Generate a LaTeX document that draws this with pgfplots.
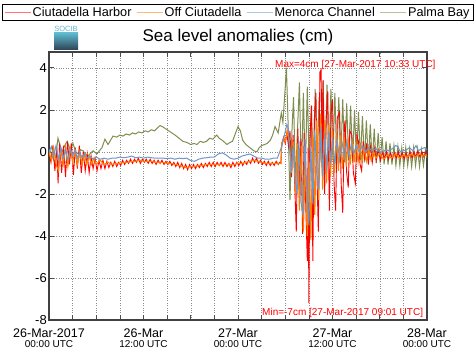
\documentclass[border=0pt]{standalone}
\usepackage{pgfplots}
\pgfplotsset{compat=1.18}
\usepackage{fontspec}
\setmainfont{Liberation Sans}
\definecolor{cred}{RGB}{255,0,0}
\definecolor{corange}{RGB}{255,128,0}
\definecolor{cblue}{RGB}{110,150,200}
\definecolor{cgreen}{RGB}{125,142,78}
\definecolor{logotop}{RGB}{95,185,205}
\definecolor{logobot}{RGB}{45,65,85}
\newcommand{\tl}[2]{{\fontsize{12.5}{10.6}\selectfont #1}\\[-2.5pt]{\fontsize{10}{10.6}\selectfont #2}}
\begin{document}
\begin{tikzpicture}
\useasboundingbox (0pt,0pt) rectangle (476pt,359pt);
\begin{axis}[
  anchor=south west, at={(49pt,39pt)},
  width=378pt, height=268pt, scale only axis,
  xmin=0, xmax=48, ymin=-8, ymax=4.75,
  xtick={0,12,24,36,48},
  minor xtick={3,6,9,15,18,21,27,30,33,39,42,45},
  xticklabels={{\tl{26-Mar-2017}{00:00 UTC}},{\tl{26-Mar}{12:00 UTC}},{\tl{27-Mar}{00:00 UTC}},{\tl{27-Mar}{12:00 UTC}},{\tl{28-Mar}{00:00 UTC}}},
  xticklabel style={align=center, anchor=north, inner sep=2pt, yshift=-7pt},
  ytick={-8,-6,-4,-2,0,2,4},
  yticklabels={-8,-6,-4,-2,0,2,4},
  yticklabel style={font=\fontsize{13}{13}\selectfont, inner sep=2pt},
  grid=both,
  major grid style={dotted, black!45},
  minor grid style={dotted, black!45},
  major tick length=5pt, minor tick length=5pt,
  tick style={black!70, line width=0.6pt},
  axis line style={black!75, line width=1.1pt},
  legend columns=4,
  legend style={at={(0.4987,1.147)}, anchor=center, draw=black, line width=0.8pt,
    font=\fontsize{12.7}{14}\selectfont, inner xsep=2pt, inner ysep=1pt,
    nodes={inner sep=1.5pt},
    /tikz/every even column/.append style={column sep=3pt}},
  legend image code/.code={\draw[#1] (0pt,0pt) -- (26pt,0pt);},
]
\addlegendimage{color=cred!55, line width=1.2pt}
\addlegendentry{Ciutadella Harbor}
\addlegendimage{color=corange!55, line width=1.2pt}
\addlegendentry{Off Ciutadella}
\addlegendimage{color=cblue!55, line width=1.2pt}
\addlegendentry{Menorca Channel}
\addlegendimage{color=cgreen!55, line width=1.2pt}
\addlegendentry{Palma Bay}

% Palma Bay
\addplot[color=cgreen, line width=1pt, forget plot] coordinates {
(0,0.0)(0.13,0.05)(0.76,-0.55)(1.14,0.65)(1.65,0.0)(2.0,0.3)(2.3,0.5)(2.7,0.1)(3.05,0.4)(3.4,0.0)
(3.7,-0.1)(4.0,0.1)(4.32,0.05)(4.6,-0.1)(4.95,-0.2)(5.3,-0.05)(5.6,0.05)(6.1,-0.1)(6.4,0.05)(6.73,0.2)
(7.1,0.6)(7.5,0.35)(8.13,0.75)(8.6,0.7)(9.0,0.8)(9.4,0.75)(9.8,0.85)(10.2,0.8)(10.6,0.9)(11.0,0.85)
(11.4,0.95)(11.8,0.9)(12.2,1.0)(12.6,0.95)(13.0,1.05)(13.4,1.0)(13.8,1.15)(14.1,1.25)(14.4,1.2)(14.8,1.1)
(15.4,0.95)(16.0,0.8)(16.5,0.65)(17.0,0.5)(17.5,0.45)(18.0,0.35)(18.4,0.4)(18.8,0.35)(19.2,0.5)(19.6,0.45)
(20.0,0.5)(20.4,0.65)(20.8,0.6)(21.3,0.8)(21.6,0.65)(22.0,0.55)(22.6,0.35)(23.0,0.45)(23.3,0.5)(23.7,0.9)
(24.0,1.2)(24.3,1.0)(24.6,0.55)(25.0,0.35)(25.5,0.2)(26.0,0.05)(26.4,0.0)(26.7,0.2)(27.0,0.3)(27.4,0.35)
(27.7,0.4)(28.1,0.55)(28.4,0.8)(28.7,1.2)(29.1,0.9)(29.5,1.85)(29.7,1.4)(29.9,2.5)(30.15,4.0)(30.35,1.5)
(30.6,-2.3)(30.85,1.0)(31.05,2.6)(31.3,-1.5)(31.55,1.0)(31.8,3.3)(32.05,-1.3)(32.3,2.8)(32.55,-1.0)(32.8,3.1)
(33.05,-0.8)(33.3,2.2)(33.55,-1.0)(33.8,3.0)(34.05,-0.6)(34.3,2.6)(34.55,-0.5)(34.8,3.4)(35.05,-0.6)(35.3,3.2)
(35.55,-0.5)(35.8,3.0)(36.05,-0.4)(36.3,2.8)(36.55,-0.5)(36.8,2.6)(37.05,-0.4)(37.3,2.5)(37.55,-0.5)(37.8,2.3)
(38.05,-0.4)(38.3,2.2)(38.55,-0.45)(38.8,2.0)(39.05,-0.5)(39.3,1.9)(39.55,-0.4)(39.8,1.7)(40.05,-0.5)(40.3,1.5)
(40.55,-0.45)(40.8,1.3)(41.05,-0.5)(41.3,1.1)(41.55,-0.55)(41.8,0.9)(42.05,-0.55)(42.3,0.7)(42.55,-0.6)(42.8,0.5)
(43.05,-0.6)(43.3,0.4)(43.55,-0.6)(43.8,0.3)(44.05,-0.65)(44.3,0.25)(44.55,-0.65)(44.8,0.2)(45.05,-0.7)(45.3,0.2)
(45.55,-0.65)(45.8,0.15)(46.05,-0.7)(46.3,0.2)(46.55,-0.65)(46.8,0.15)(47.05,-0.7)(47.3,0.1)(47.55,-0.65)(47.8,0.1)(48.0,-0.3)
};

% Ciutadella Harbor
\addplot[color=cred, line width=0.9pt, forget plot] coordinates {
(0,0.0)(0.25,-0.5)(0.5,0.3)(0.75,-0.9)(1.0,0.2)(1.15,-1.5)(1.35,0.4)(1.6,-1.0)(1.85,0.3)(2.1,-1.2)
(2.35,0.5)(2.6,-0.6)(2.85,0.4)(3.1,-1.1)(3.35,0.2)(3.6,-0.8)(3.85,0.3)(4.1,-1.0)(4.35,0.0)(4.6,-0.9)
(4.85,-0.1)(5.1,-1.0)(5.35,-0.2)(5.6,-0.8)(5.85,-0.3)(6.1,-0.9)(6.35,-0.4)(6.6,-0.8)(6.85,-0.4)(7.1,-0.8)
(7.35,-0.45)(7.6,-0.75)(7.85,-0.5)(8.1,-0.7)(8.35,-0.45)(8.6,-0.7)(8.85,-0.5)(9.1,-0.65)(9.35,-0.4)(9.6,-0.6)
(9.85,-0.4)(10.1,-0.55)(10.35,-0.35)(10.6,-0.55)(10.85,-0.35)(11.1,-0.5)(11.35,-0.3)(11.6,-0.55)(11.85,-0.35)(12.1,-0.5)
(12.35,-0.35)(12.6,-0.55)(12.85,-0.35)(13.1,-0.55)(13.35,-0.4)(13.6,-0.6)(13.85,-0.4)(14.1,-0.55)(14.35,-0.4)(14.6,-0.6)
(14.85,-0.45)(15.1,-0.6)(15.35,-0.45)(15.6,-0.65)(15.85,-0.5)(16.1,-0.7)(16.35,-0.5)(16.6,-0.75)(16.85,-0.55)(17.1,-0.8)
(17.35,-0.6)(17.6,-0.85)(17.85,-0.6)(18.1,-0.8)(18.35,-0.6)(18.6,-0.8)(18.85,-0.6)(19.1,-0.75)(19.35,-0.55)(19.6,-0.75)
(19.85,-0.55)(20.1,-0.7)(20.35,-0.5)(20.6,-0.7)(20.85,-0.5)(21.1,-0.7)(21.35,-0.5)(21.6,-0.65)(21.85,-0.5)(22.1,-0.7)
(22.35,-0.5)(22.6,-0.7)(22.85,-0.55)(23.1,-0.75)(23.35,-0.5)(23.6,-0.7)(23.85,-0.5)(24.1,-0.65)(24.35,-0.45)(24.6,-0.65)
(24.85,-0.45)(25.1,-0.6)(25.35,-0.4)(25.6,-0.55)(25.85,-0.3)(26.1,-0.5)(26.35,-0.3)(26.6,-0.55)(26.85,-0.4)(27.1,-0.6)
(27.35,-0.45)(27.6,-0.65)(27.85,-0.45)(28.1,-0.65)(28.35,-0.5)(28.6,-0.65)(28.85,-0.45)(29.1,-0.6)(29.3,-0.5)(29.45,-0.55)
(29.55,0.4)(29.8,0.7)(30.0,0.4)(30.2,0.9)(30.4,0.3)(30.6,1.0)(30.8,-1.2)(31.0,0.8)(31.2,-1.5)(31.4,-3.8)
(31.6,1.1)(31.8,-1.8)(32.0,0.6)(32.2,-3.9)(32.4,0.9)(32.6,-2.5)(32.8,-5.2)(32.9,0.2)(33.0,-7.2)(33.15,0.8)
(33.35,2.2)(33.5,-5.2)(33.7,1.5)(33.9,2.8)(34.05,-1.5)(34.2,-3.8)(34.4,3.8)(34.55,3.9)(34.7,-1.0)(34.8,3.4)
(35.0,-2.0)(35.2,1.5)(35.4,2.9)(35.6,-2.8)(35.8,1.8)(36.0,2.5)(36.2,-1.5)(36.4,-2.8)(36.6,1.6)(36.9,1.9)
(37.1,-1.5)(37.3,-2.9)(37.5,1.2)(37.6,1.5)(37.8,-1.0)(38.0,-1.7)(38.2,1.0)(38.45,0.8)(38.65,-1.0)(38.9,-1.5)
(39.1,0.8)(39.3,0.5)(39.5,-0.6)(39.7,-0.9)(39.9,0.5)(40.1,-0.4)(40.3,0.4)(40.55,-0.6)(40.8,0.3)(41.05,-0.5)
(41.3,0.2)(41.55,-0.4)(41.8,0.1)(42.1,-0.4)(42.35,0.0)(42.6,-0.35)(42.85,0.0)(43.1,-0.35)(43.35,-0.05)(43.6,-0.35)
(43.85,-0.05)(44.1,-0.3)(44.35,0.0)(44.6,-0.3)(44.85,-0.05)(45.1,-0.35)(45.35,-0.05)(45.6,-0.3)(45.85,0.0)(46.1,-0.3)
(46.35,0.0)(46.6,-0.25)(46.85,0.05)(47.1,-0.25)(47.35,0.0)(47.6,-0.25)(47.85,0.0)(48.0,-0.2)
};

% Off Ciutadella
\addplot[color=corange, line width=1.1pt, forget plot] coordinates {
(0,0.0)(0.3,-0.4)(0.6,0.2)(0.9,-0.6)(1.2,-0.9)(1.5,0.1)(1.8,-0.6)(2.1,0.2)(2.4,-0.7)(2.7,0.2)
(3.0,-0.5)(3.3,0.1)(3.6,-0.6)(3.9,0.0)(4.2,-0.6)(4.5,-0.1)(4.8,-0.6)(5.1,-0.2)(5.4,-0.6)(5.7,-0.3)
(6.0,-0.6)(6.5,-0.4)(7.0,-0.6)(7.5,-0.5)(8,-0.6)(8.5,-0.55)(9,-0.55)(9.5,-0.5)(10,-0.5)(10.5,-0.45)
(11,-0.45)(11.5,-0.4)(12,-0.45)(12.5,-0.45)(13,-0.45)(13.5,-0.5)(14,-0.5)(14.5,-0.5)(15,-0.55)(15.5,-0.55)
(16,-0.6)(16.5,-0.65)(17,-0.7)(17.5,-0.75)(18,-0.7)(18.5,-0.7)(19,-0.65)(19.5,-0.65)(20,-0.6)(20.5,-0.6)
(21,-0.6)(21.5,-0.6)(22,-0.6)(22.5,-0.6)(23,-0.62)(23.5,-0.6)(24,-0.55)(24.5,-0.55)(25,-0.5)(25.5,-0.45)
(26,-0.4)(26.5,-0.45)(27,-0.5)(27.5,-0.55)(28,-0.55)(28.5,-0.55)(29.0,-0.55)(29.45,-0.55)
(29.55,0.4)(29.8,0.6)(30.0,0.5)(30.3,1.0)(30.55,0.3)(30.8,-1.0)(31.05,0.5)(31.3,-2.0)(31.55,0.4)(31.8,-2.8)
(32.05,0.3)(32.3,-3.8)(32.55,-0.3)(32.8,-4.0)(33.05,-0.5)(33.25,-4.2)(33.5,0.8)(33.75,-3.0)(34.0,1.5)(34.25,-2.3)
(34.5,1.8)(34.75,-1.8)(35.0,1.5)(35.25,-1.5)(35.5,1.3)(35.75,-1.2)(36.0,1.0)(36.25,-1.0)(36.5,0.9)(36.75,-0.9)
(37.0,0.8)(37.25,-0.8)(37.5,0.7)(37.75,-0.7)(38.0,0.6)(38.25,-0.6)(38.5,0.5)(38.75,-0.5)(39.0,0.4)(39.25,-0.5)
(39.5,0.3)(39.75,-0.45)(40.0,0.2)(40.3,-0.45)(40.6,0.1)(40.9,-0.4)(41.2,0.0)(41.5,-0.3)(42,-0.1)(42.5,-0.35)
(43,-0.15)(43.5,-0.3)(44,-0.1)(44.5,-0.3)(45,-0.15)(45.5,-0.25)(46,-0.1)(46.5,-0.25)(47,-0.1)(47.5,-0.2)(48,-0.15)
};

% Menorca Channel
\addplot[color=cblue, line width=1pt, forget plot] coordinates {
(0,0.0)(0.3,0.25)(0.6,-0.2)(0.9,0.3)(1.2,-0.4)(1.5,0.2)(1.8,-0.3)(2.1,0.1)(2.4,-0.4)(2.7,0.15)
(3.0,-0.2)(3.3,0.1)(3.6,-0.3)(3.9,0.0)(4.2,-0.3)(4.5,-0.1)(4.8,-0.3)(5.2,-0.2)(5.6,-0.35)(6.0,-0.25)
(6.5,-0.35)(7.0,-0.3)(7.5,-0.35)(8,-0.3)(8.5,-0.3)(9,-0.25)(9.5,-0.28)(10,-0.25)(10.5,-0.2)(11,-0.28)
(11.5,-0.25)(12,-0.3)(12.5,-0.25)(13,-0.28)(13.5,-0.3)(14,-0.3)(14.5,-0.3)(15,-0.32)(15.5,-0.3)(16,-0.35)
(16.5,-0.3)(17,-0.32)(17.5,-0.3)(18,-0.42)(18.5,-0.45)(19,-0.35)(19.5,-0.3)(20,-0.28)(20.5,-0.25)(21,-0.25)
(21.5,-0.1)(22,-0.05)(22.5,-0.15)(23,-0.3)(23.5,-0.35)(24,-0.3)(24.5,-0.2)(25,-0.15)(25.5,-0.1)(26,-0.2)
(26.5,-0.3)(27,-0.3)(27.5,-0.35)(28,-0.35)(28.5,-0.3)(29.0,-0.3)(29.2,-0.1)(29.6,0.3)(29.9,0.8)(30.2,1.3)
(30.4,1.1)(30.6,0.0)(30.8,-1.0)(31.0,0.3)(31.25,-1.2)(31.5,-2.0)(31.75,0.5)(32.0,-2.4)(32.25,-3.0)(32.5,0.6)
(32.75,-2.0)(33.0,-3.5)(33.25,0.2)(33.5,-2.5)(33.75,1.0)(34.0,-1.0)(34.25,-1.8)(34.5,1.2)(34.75,-1.2)(35.0,0.9)
(35.25,-0.9)(35.5,1.0)(35.75,-0.6)(36.0,0.7)(36.3,-0.6)(36.6,0.6)(36.9,-0.4)(37.2,0.5)(37.5,-0.3)(37.8,0.5)
(38.1,-0.2)(38.4,0.4)(38.7,-0.1)(39.0,0.3)(39.4,0.0)(39.8,0.3)(40.2,0.0)(40.6,0.2)(41.0,0.05)(41.5,0.15)
(42.0,0.0)(42.4,0.0)(42.8,0.1)(43.2,0.05)(43.6,0.15)(44.0,0.3)(44.3,0.25)(44.6,0.0)(45.0,0.05)(45.4,0.1)
(45.8,0.2)(46.2,0.05)(46.6,0.3)(46.9,0.05)(47.3,0.15)(47.7,0.2)(48,0.1)
};
\end{axis}
% title
\node[anchor=base, inner sep=0pt, font=\fontsize{17}{17}\selectfont] at (238pt,317.3pt) {Sea level anomalies (cm)};
% annotations
\node[anchor=base west, inner sep=0pt, text=cred, font=\fontsize{10}{10}\selectfont] at (275pt,291.7pt) {Max=4cm [27-Mar-2017 10:33 UTC]};
\node[anchor=base west, inner sep=0pt, text=cred, font=\fontsize{10}{10}\selectfont] at (262pt,44pt) {Min=-7cm [27-Mar-2017 09:01 UTC]};
% logo
\shade[top color=logotop, bottom color=logobot] (54pt,309pt) rectangle (78pt,326pt);
\node[anchor=base, inner sep=0pt, text=logotop, font=\fontsize{7.5}{7.5}\selectfont] at (66pt,327pt) {SOCIB};
\end{tikzpicture}
\end{document}
